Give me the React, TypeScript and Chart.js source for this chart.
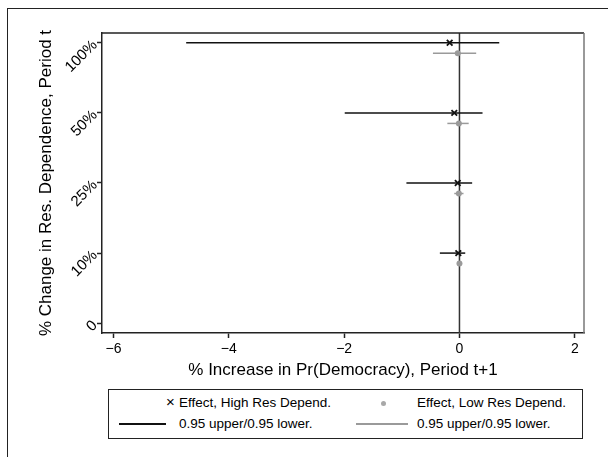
import React, { useEffect, useRef } from "react";
import { Chart, registerables } from "chart.js";

Chart.register(...registerables);

// ---- data ----
const categories = ["10%", "25%", "50%", "100%"];
const categoryPositions = [1, 2, 3, 4];
const yTickValues = [0, 1, 2, 3, 4];
const yTickLabels = ["0", "10%", "25%", "50%", "100%"];
const xTickValues = [-6, -4, -2, 0, 2];

const highEffect = [-0.02, -0.03, -0.09, -0.17];
const highLower = [-0.34, -0.92, -1.99, -4.74];
const highUpper = [0.1, 0.22, 0.4, 0.69];

const lowEffect = [0.0, -0.01, -0.01, -0.03];
const lowLower = [-0.03, -0.09, -0.21, -0.46];
const lowUpper = [0.03, 0.07, 0.16, 0.29];

const lowOffset = -0.15;
const X_MIN = -6.2;
const X_MAX = 2.16;
const Y_MIN = -0.14;
const Y_MAX = 4.14;

const FONT = "'Liberation Sans', Arial, Helvetica, sans-serif";
const BLACK = "#111111";
const GRAY = "#9a9a9a";

const framePlugin = {
  id: "frame",
  afterDraw(chart: any) {
    const { ctx, chartArea } = chart;
    const { left, top, right, bottom } = chartArea;
    ctx.save();
    ctx.lineWidth = 1.5;
    ctx.strokeStyle = "#222";
    ctx.beginPath();
    ctx.moveTo(left, top);
    ctx.lineTo(right, top);
    ctx.stroke();
    ctx.strokeStyle = "#777";
    ctx.beginPath();
    ctx.moveTo(right, top);
    ctx.lineTo(right, bottom);
    ctx.stroke();
    ctx.restore();
  },
};

export default function App() {
  const ref = useRef<HTMLCanvasElement>(null);

  useEffect(() => {
    if (!ref.current) return;
    const datasets: any[] = [];

    datasets.push({
      type: "line",
      data: [
        { x: 0, y: Y_MIN },
        { x: 0, y: Y_MAX },
      ],
      borderColor: "#333",
      borderWidth: 1.5,
      pointRadius: 0,
      order: 10,
    });

    categoryPositions.forEach((yPos, i) => {
      datasets.push({
        type: "line",
        data: [
          { x: highLower[i], y: yPos },
          { x: highUpper[i], y: yPos },
        ],
        borderColor: BLACK,
        borderWidth: 1.5,
        pointRadius: 0,
        order: 5,
      });
      datasets.push({
        type: "line",
        data: [
          { x: lowLower[i], y: yPos + lowOffset },
          { x: lowUpper[i], y: yPos + lowOffset },
        ],
        borderColor: GRAY,
        borderWidth: 1.5,
        pointRadius: 0,
        order: 5,
      });
    });

    datasets.push({
      type: "scatter",
      data: categoryPositions.map((yPos, i) => ({ x: highEffect[i], y: yPos })),
      pointStyle: "crossRot",
      pointRadius: 4,
      borderWidth: 1.8,
      borderColor: BLACK,
      order: 0,
    });
    datasets.push({
      type: "scatter",
      data: categoryPositions.map((yPos, i) => ({ x: lowEffect[i], y: yPos + lowOffset })),
      pointStyle: "circle",
      pointRadius: 3,
      borderWidth: 0,
      backgroundColor: GRAY,
      borderColor: GRAY,
      order: 1,
    });

    const chart = new Chart(ref.current, {
      type: "scatter",
      data: { datasets },
      plugins: [framePlugin],
      options: {
        animation: false,
        responsive: false,
        devicePixelRatio: 1,
        layout: { padding: { top: 33, right: 24, bottom: 74, left: 0 } },
        plugins: { legend: { display: false }, tooltip: { enabled: false } },
        scales: {
          x: {
            type: "linear",
            min: X_MIN,
            max: X_MAX,
            afterBuildTicks(scale: any) {
              scale.ticks = xTickValues.map((v) => ({ value: v }));
            },
            afterFit(scale: any) {
              scale.height = 50;
            },
            ticks: {
              color: "#000",
              font: { family: FONT, size: 14 },
              padding: 3,
              maxRotation: 0,
              callback: (v: any) => (v < 0 ? "\u2212" + Math.abs(v) : String(v)),
            },
            grid: {
              display: true,
              drawOnChartArea: false,
              drawTicks: true,
              tickLength: 5,
              tickColor: "#222",
              tickWidth: 1.5,
            },
            border: { display: true, color: "#222", width: 1.5 },
            title: {
              display: true,
              text: "% Increase in Pr(Democracy), Period t+1",
              color: "#000",
              font: { family: FONT, size: 17 },
              padding: { top: 0, bottom: 2 },
            },
          },
          y: {
            type: "linear",
            min: Y_MIN,
            max: Y_MAX,
            afterBuildTicks(scale: any) {
              scale.ticks = yTickValues.map((v) => ({ value: v }));
            },
            afterFit(scale: any) {
              scale.width = 102;
            },
            ticks: {
              color: "#000",
              font: { family: FONT, size: 15 },
              padding: 2,
              minRotation: 45,
              maxRotation: 45,
              callback: (v: any) => yTickLabels[yTickValues.indexOf(v)] ?? "",
            },
            grid: {
              display: true,
              drawOnChartArea: false,
              drawTicks: true,
              tickLength: 5,
              tickColor: "#222",
              tickWidth: 1.5,
            },
            border: { display: true, color: "#222", width: 1.5 },
            title: {
              display: true,
              text: "% Change in Res. Dependence, Period t",
              color: "#000",
              font: { family: FONT, size: 17 },
              padding: { top: 36, bottom: 0 },
            },
          },
        },
      },
    } as any);
    return () => chart.destroy();
  }, []);

  const txt: React.CSSProperties = {
    position: "absolute",
    fontFamily: FONT,
    fontSize: 13.5,
    color: "#000",
    lineHeight: "16px",
    whiteSpace: "nowrap",
  };

  return (
    <div
      style={{
        position: "fixed",
        left: 0,
        top: 0,
        width: 608,
        height: 457,
        background: "#fff",
        overflow: "hidden",
      }}
    >
      <div
        style={{
          position: "absolute",
          left: 7,
          top: 8,
          width: 700,
          height: 600,
          borderLeft: "1.5px solid #222",
          borderTop: "1.5px solid #222",
        }}
      />
      <canvas
        ref={ref}
        width={608}
        height={457}
        style={{ position: "absolute", left: 0, top: 0, width: 608, height: 457 }}
      />
      <div
        style={{
          position: "absolute",
          left: 108,
          top: 389,
          width: 473,
          height: 48,
          border: "1px solid #222",
          background: "#fff",
        }}
      >
        <div style={{ ...txt, left: 57, top: 4, fontSize: 15 }}>×</div>
        <div style={{ ...txt, left: 70, top: 5 }}>Effect, High Res Depend.</div>
        <div
          style={{
            position: "absolute",
            left: 272,
            top: 11,
            width: 5,
            height: 5,
            borderRadius: 3,
            background: "#a8a8a8",
          }}
        />
        <div style={{ ...txt, left: 308, top: 5 }}>Effect, Low Res Depend.</div>
        <div
          style={{
            position: "absolute",
            left: 10,
            top: 33,
            width: 47,
            height: 1.5,
            background: BLACK,
          }}
        />
        <div style={{ ...txt, left: 70, top: 26 }}>0.95 upper/0.95 lower.</div>
        <div
          style={{
            position: "absolute",
            left: 247,
            top: 33,
            width: 52,
            height: 1.5,
            background: GRAY,
          }}
        />
        <div style={{ ...txt, left: 308, top: 26 }}>0.95 upper/0.95 lower.</div>
      </div>
    </div>
  );
}
